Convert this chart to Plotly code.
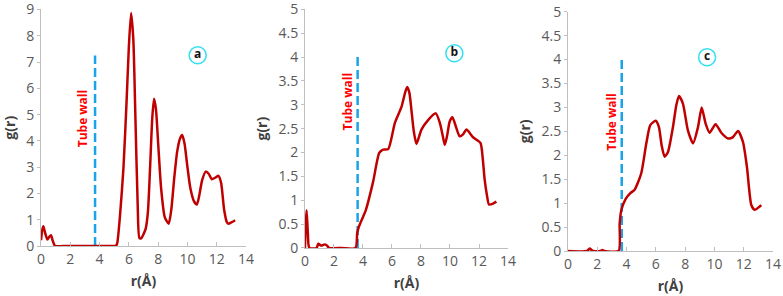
import plotly.graph_objects as go

# ---- data ----
r_a = [0.0, 0.08, 0.16, 0.28, 0.43, 0.56, 0.68, 0.80, 0.96, 1.5, 2.5, 3.5, 4.5, 4.9, 5.1, 5.2, 5.4, 5.63, 5.85, 6.0, 6.15, 6.3, 6.45, 6.6, 6.72, 6.85, 7.0, 7.15, 7.3, 7.45, 7.6, 7.72, 7.85, 8.0, 8.2, 8.45, 8.72, 8.9, 9.1, 9.3, 9.5, 9.64, 9.8, 10.0, 10.2, 10.45, 10.64, 10.8, 11.0, 11.25, 11.45, 11.66, 11.9, 12.12, 12.3, 12.5, 12.69, 12.8, 13.0, 13.26]
g_a = [0.22, 0.6, 0.75, 0.5, 0.25, 0.35, 0.41, 0.2, 0.0, 0.0, 0.0, 0.0, 0.0, 0.0, 0.0, 0.1, 1.2, 2.98, 5.6, 7.6, 8.87, 7.9, 4.8, 1.6, 0.3, 0.3, 0.45, 0.66, 1.3, 3.0, 4.9, 5.6, 5.2, 3.9, 2.2, 1.1, 0.85, 1.4, 2.6, 3.6, 4.1, 4.22, 3.9, 3.0, 2.2, 1.7, 1.58, 1.9, 2.5, 2.83, 2.75, 2.54, 2.6, 2.67, 2.4, 1.4, 0.91, 0.85, 0.9, 0.98]

r_b = [0.0, 0.05, 0.11, 0.2, 0.3, 0.8, 0.92, 1.05, 1.15, 1.3, 1.42, 1.55, 1.65, 2.5, 3.49, 3.6, 3.72, 4.2, 4.7, 5.12, 5.39, 5.74, 6.2, 6.66, 6.9, 7.05, 7.2, 7.34, 7.5, 7.69, 8.03, 8.49, 9.02, 9.3, 9.5, 9.64, 9.8, 9.98, 10.17, 10.44, 10.67, 10.9, 11.13, 11.59, 12.1, 12.25, 12.39, 12.55, 12.69, 12.97, 13.2]
g_b = [0.0, 0.5, 0.79, 0.3, 0.0, 0.0, 0.09, 0.06, 0.05, 0.07, 0.07, 0.04, 0.0, 0.0, 0.0, 0.31, 0.45, 0.8, 1.39, 1.99, 2.06, 2.07, 2.62, 2.96, 3.25, 3.37, 3.25, 2.89, 2.45, 2.18, 2.48, 2.68, 2.82, 2.62, 2.35, 2.16, 2.35, 2.65, 2.74, 2.51, 2.34, 2.38, 2.48, 2.32, 2.2, 1.9, 1.43, 1.1, 0.91, 0.93, 0.97]

r_c = [0.0, 1.3, 1.48, 1.7, 2.2, 2.35, 2.5, 3.46, 3.53, 3.64, 3.94, 4.26, 4.55, 5.0, 5.35, 5.62, 5.99, 6.21, 6.4, 6.6, 6.83, 7.17, 7.4, 7.58, 7.85, 8.19, 8.54, 8.88, 9.13, 9.4, 9.67, 10.08, 10.47, 10.93, 11.27, 11.61, 11.95, 12.22, 12.52, 12.75, 13.09, 13.2]
g_c = [0.0, 0.0, 0.05, 0.0, 0.0, 0.02, 0.0, 0.0, 0.57, 0.85, 1.09, 1.21, 1.28, 1.62, 2.25, 2.63, 2.72, 2.59, 2.2, 1.97, 2.07, 2.59, 3.05, 3.24, 3.08, 2.52, 2.25, 2.59, 3.0, 2.66, 2.47, 2.65, 2.47, 2.35, 2.38, 2.51, 2.28, 1.76, 0.96, 0.86, 0.93, 0.96]

panels = ["a", "b", "c"]
r_data = [r_a, r_b, r_c]
g_data = [g_a, g_b, g_c]
y_max = [9, 5, 5]
y_dtick = [1, 0.5, 0.5]
y_ticktext = [[str(v) for v in range(10)],
              ["0", "0.5", "1", "1.5", "2", "2.5", "3", "3.5", "4", "4.5", "5"],
              ["0", "0.5", "1", "1.5", "2", "2.5", "3", "3.5", "4", "4.5", "5"]]
x_ticks = [0, 2, 4, 6, 8, 10, 12, 14]
wall_r = [3.69, 3.63, 3.67]
wall_top = [7.25, 4.0, 4.0]
wall_label = "Tube wall"
wall_text_pos = [(2.85, 4.85), (2.9, 3.05), (3.0, 2.7)]
panel_label_pos = [(10.7, 7.26), (10.3, 4.08), (9.5, 4.05)]

# ---- layout geometry ----
x_domains = [(0.0524, 0.3142), (0.3895, 0.6488), (0.7254, 0.9872)]
y_domains = [(0.1689, 0.968), (0.1622, 0.9686), (0.152, 0.9605)]

fig = go.Figure()
FONT = "Open Sans, DejaVu Sans, sans-serif"
AXC = "#bfbfbf"
TXC = "#595959"

for i in range(3):
    xa = "x" if i == 0 else f"x{i+1}"
    ya = "y" if i == 0 else f"y{i+1}"
    # tube wall
    fig.add_trace(go.Scatter(x=[wall_r[i], wall_r[i]], y=[0, wall_top[i]], mode="lines",
                             line=dict(color="#1aa3e8", width=2.5, dash="9px,4px"),
                             xaxis=xa, yaxis=ya, showlegend=False, hoverinfo="skip"))
    # curve
    fig.add_trace(go.Scatter(x=r_data[i], y=g_data[i], mode="lines",
                             line=dict(color="#c00000", width=2.5, shape="spline", smoothing=0.6),
                             xaxis=xa, yaxis=ya, showlegend=False, cliponaxis=False))
    # panel label
    fig.add_trace(go.Scatter(x=[panel_label_pos[i][0]], y=[panel_label_pos[i][1]], mode="markers+text",
                             marker=dict(symbol="circle", size=17, color="white",
                                         line=dict(color="#33e0f0", width=1.5)),
                             text=[f"<b>{panels[i]}</b>"], textposition="middle center",
                             textfont=dict(family=FONT, size=12, color="#111111"),
                             xaxis=xa, yaxis=ya, showlegend=False))
    fig.add_annotation(x=wall_text_pos[i][0], y=wall_text_pos[i][1], xref=xa, yref=ya,
                       text=f"<b>{wall_label}</b>", showarrow=False, textangle=-90,
                       font=dict(family=FONT, size=12, color="#ff0000"))

    xkey = "xaxis" if i == 0 else f"xaxis{i+1}"
    ykey = "yaxis" if i == 0 else f"yaxis{i+1}"
    fig.layout[xkey] = dict(domain=list(x_domains[i]), anchor=ya, range=[0, 14], automargin=False,
                            tickvals=x_ticks, ticktext=[str(v) for v in x_ticks],
                            ticklabeloverflow="allow",
                            showgrid=False, zeroline=False, showline=True, linecolor=AXC, linewidth=1,
                            ticks="inside", ticklen=4, tickcolor=AXC,
                            tickfont=dict(family=FONT, size=14, color=TXC),
                            title=dict(text="<b>r(Å)</b>", font=dict(family=FONT, size=14, color="#404040"),
                                       standoff=9))
    fig.layout[ykey] = dict(domain=list(y_domains[i]), anchor=xa, range=[0, y_max[i]], automargin=False,
                            tickvals=[k * y_dtick[i] for k in range(len(y_ticktext[i]))],
                            ticktext=y_ticktext[i], ticklabeloverflow="allow",
                            showgrid=False, zeroline=False, showline=True, linecolor=AXC, linewidth=1,
                            ticks="outside", ticklen=3, tickcolor=AXC,
                            tickfont=dict(family=FONT, size=14, color=TXC),
                            title=dict(text="<b>g(r)</b>", font=dict(family=FONT, size=14, color="#404040"),
                                       standoff=7))

fig.update_layout(width=783, height=296, margin=dict(l=0, r=0, t=0, b=0),
                  paper_bgcolor="white", plot_bgcolor="white")
fig.write_html("out.html", config={"displayModeBar": False},
               post_script="document.body.style.margin='0';document.body.style.overflow='hidden';")
